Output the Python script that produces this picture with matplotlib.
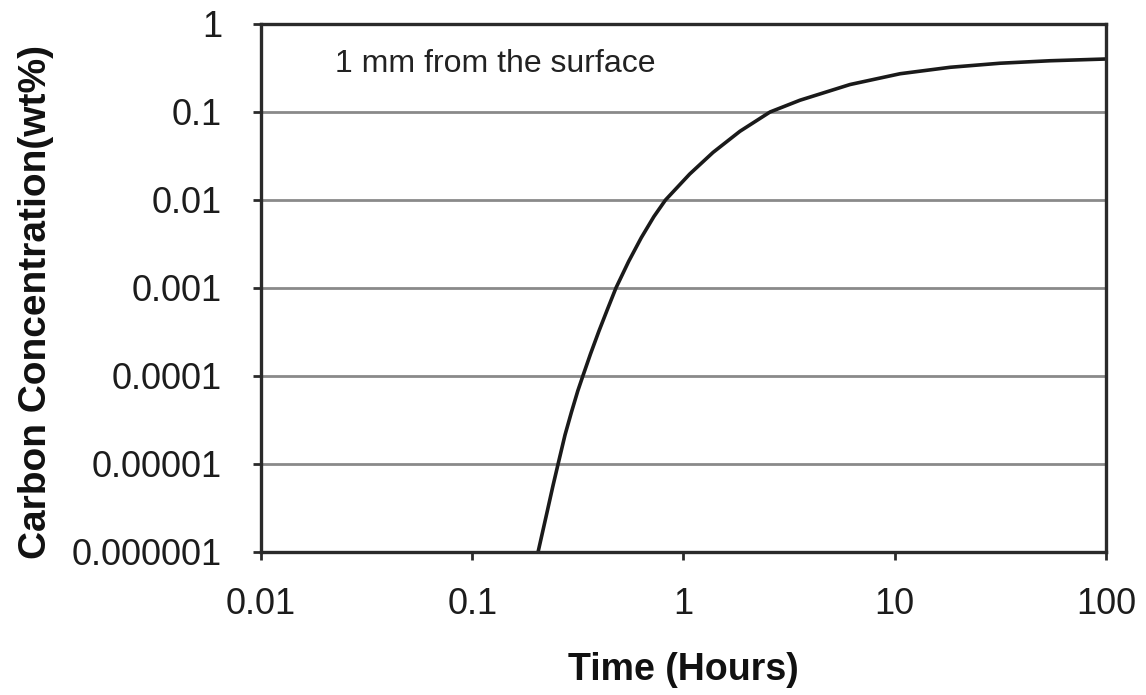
import matplotlib.pyplot as plt
import numpy as np

plt.rcParams['font.family'] = ['Liberation Sans', 'DejaVu Sans']

# Carbon concentration 1 mm below the surface
time_hours = [0.205, 0.226, 0.241, 0.255, 0.275, 0.295, 0.316, 0.334, 0.363,
              0.398, 0.437, 0.479, 0.550, 0.631, 0.724, 0.822, 1.07, 1.38,
              1.85, 2.57, 3.56, 6.14, 10.6, 18.3, 31.5, 54.3, 100]
carbon_wt = [1e-6, 2.82e-6, 5.62e-6, 1e-5, 2.14e-5, 3.89e-5, 6.76e-5, 1e-4,
             1.78e-4, 3.24e-4, 5.75e-4, 1e-3, 2.0e-3, 3.72e-3, 6.46e-3, 0.01,
             0.0197, 0.0347, 0.0603, 0.1, 0.136, 0.205, 0.272, 0.322, 0.358,
             0.382, 0.400]

x_ticks = [0.01, 0.1, 1, 10, 100]
x_labels = ['0.01', '0.1', '1', '10', '100']
y_ticks = [1e-6, 1e-5, 1e-4, 1e-3, 1e-2, 1e-1, 1]
y_labels = ['0.000001', '0.00001', '0.0001', '0.001', '0.01', '0.1', '1']

fig = plt.figure(figsize=(11.46, 6.95), dpi=100)
ax = fig.add_axes([0.2277, 0.2058, 0.9651 - 0.2277, 0.9655 - 0.2058])

ax.plot(time_hours, carbon_wt, color='#1a1a1a', lw=2.6, solid_joinstyle='round')

ax.set_xscale('log')
ax.set_yscale('log')
ax.set_xlim(0.01, 100)
ax.set_ylim(1e-6, 1)

ax.set_xticks(x_ticks)
ax.set_xticklabels(x_labels)
ax.set_yticks(y_ticks)
ax.set_yticklabels(y_labels)
ax.minorticks_off()

ax.yaxis.grid(True, color='#8a8a8a', lw=2.0)
ax.set_axisbelow(True)

for s in ax.spines.values():
    s.set_color('#2a2a2a')
    s.set_linewidth(2.4)

ax.tick_params(axis='both', direction='out', length=6, width=2,
               color='#2a2a2a', labelsize=26, labelcolor='#1c1c1c')
ax.tick_params(axis='y', pad=22)
ax.tick_params(axis='x', pad=19)

ax.set_xlabel('Time (Hours)', fontsize=27, fontweight='bold', color='#111111')
ax.set_ylabel('Carbon Concentration(wt%)', fontsize=28, fontweight='bold', color='#111111')
ax.xaxis.set_label_coords(0.5, -0.19)
ax.yaxis.set_label_coords(-0.245, 0.473)

ax.text(0.088, 0.925, '1 mm from the surface', transform=ax.transAxes,
        fontsize=23, color='#222222', va='center', ha='left')

fig.savefig('out.png', dpi=100)
